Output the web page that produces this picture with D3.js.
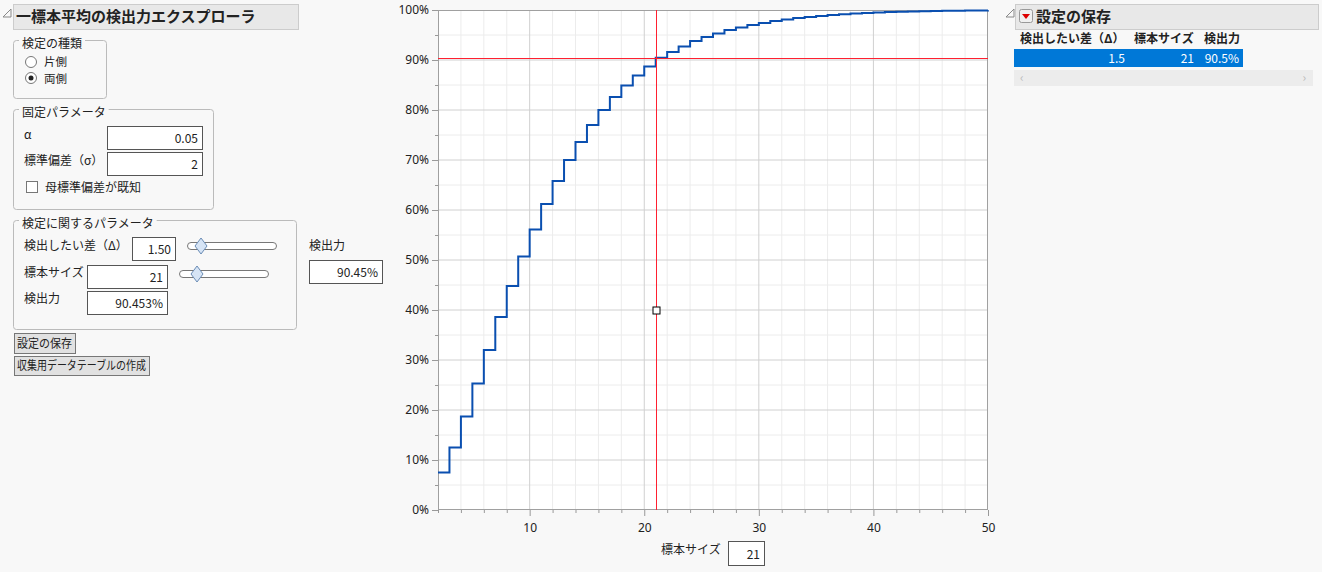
<!DOCTYPE html>
<html><head><meta charset="utf-8">
<script src="https://cdn.jsdelivr.net/npm/d3@7"></script>
<style>body{margin:0;background:#f8f8f8;}svg{display:block;font-family:"Noto Sans CJK JP",sans-serif;}</style>
</head><body><svg id="c" width="1322" height="572"></svg>
<script>
const sampleSizes = d3.range(2, 51);
const powerValues = [7.5,12.5,18.7,25.3,32.0,38.6,44.8,50.7,56.1,61.2,65.8,70.0,73.6,77.0,80.0,82.6,84.9,86.9,88.7,90.45,
 91.6,92.7,93.8,94.6,95.3,96.0,96.5,97.0,97.4,97.8,98.1,98.4,98.6,98.8,99.0,99.15,99.3,99.4,99.5,99.58,99.65,99.7,99.75,99.8,99.83,99.86,99.89,99.91,99.93];
const xTicks = [10,20,30,40,50];
const yTicks = d3.range(0,101,10);
const selN = 21, selPower = 90.45, markerPower = 40;
const savedHeaders = ["検出したい差（Δ）","標本サイズ","検出力"];
const savedRow = ["1.5","21","90.5%"];

const svg = d3.select("#c");
function txt(x,y,s,o={}){const t=svg.append("text").attr("x",x).attr("y",y).text(s).attr("font-size",o.size||12).attr("fill",o.fill||"#222").attr("font-weight",o.bold?"bold":"normal").attr("text-anchor",o.anchor||"start");if(o.len)t.attr("textLength",o.len).attr("lengthAdjust","spacingAndGlyphs");return t;}
function rect(x,y,w,h,fill,stroke,r){return svg.append("rect").attr("x",x).attr("y",y).attr("width",w).attr("height",h).attr("fill",fill).attr("stroke",stroke||"none").attr("rx",r||0);}
function tri(x,y){svg.append("path").attr("d",`M${x},${y+5}L${x+8},${y+5}L${x+8},${y-3}Z`).attr("fill","none").attr("stroke","#888");}
function group(x,y,w,h,label){rect(x+.5,y+.5,w,h,"none","#bbb",3);const t=txt(x+9,y+8,label);const bb=t.node().getBBox();svg.insert("rect",()=>t.node()).attr("x",bb.x-3).attr("y",bb.y).attr("width",bb.width+6).attr("height",bb.height).attr("fill","#f8f8f8");}
function input(x,y,w,h,v){rect(x+.5,y+.5,w,h,"#fff","#555");txt(x+w-4,y+h-6,v,{anchor:"end"});}
function slider(x,y,w,dx){rect(x+.5,y+.5,w,7,"#fff","#777",3.5);svg.append("path").attr("d",`M${dx},${y-4}L${dx+6},${y+4}L${dx},${y+12}L${dx-6},${y+4}Z`).attr("fill","#d6e4f5").attr("stroke","#6a8cb5");}
function button(x,y,w,h,label){rect(x+.5,y+.5,w,h,"#e1e1e1","#777");txt(x+3,y+h-5,label,{len:w-6});}

tri(3,12);
rect(13.5,4.5,285,25,"#e8e8e8","#ccc");
txt(16,22,"一標本平均の検出力エクスプローラ",{size:15,bold:true});
group(13,40,93,58,"検定の種類");
svg.append("circle").attr("cx",31).attr("cy",62).attr("r",5.5).attr("fill","#fff").attr("stroke","#777");
svg.append("circle").attr("cx",31).attr("cy",78).attr("r",5.5).attr("fill","#fff").attr("stroke","#777");
svg.append("circle").attr("cx",31).attr("cy",78).attr("r",2.5).attr("fill","#222");
txt(44,66,"片側",{size:11.5});txt(44,82.5,"両側",{size:11.5});
group(13,109,200,100,"固定パラメータ");
txt(24,139,"α");input(107,126,95,23,"0.05");
txt(24,165,"標準偏差（σ）");input(107,152,95,23,"2");
rect(26.5,181.5,11,11,"#fff","#777");txt(45,192,"母標準偏差が既知");
group(13,220,283,109,"検定に関するパラメータ");
txt(24,250,"検出したい差（Δ）");input(132,237,43,23,"1.50");slider(187,242,89,201);
txt(24,277,"標本サイズ");input(87,265,80,23,"21");slider(179,270,89,197);
txt(24,303,"検出力");input(87,291,80,23,"90.453%");
txt(309,250,"検出力");input(309,260,73,23,"90.45%");
button(14,333,61,20,"設定の保存");
button(14,356,135,19,"収集用データテーブルの作成");

const m={l:438,r:988,t:10,b:510};
const x=d3.scaleLinear().domain([2,50]).range([m.l,m.r]);
const y=d3.scaleLinear().domain([0,100]).range([m.b,m.t]);
rect(m.l,m.t,m.r-m.l,m.b-m.t,"#fff");
const g=svg.append("g");
d3.range(4,50,2).filter(v=>v%10).forEach(v=>g.append("line").attr("x1",x(v)).attr("x2",x(v)).attr("y1",m.t).attr("y2",m.b).attr("stroke","#ececec"));
d3.range(5,100,10).forEach(v=>g.append("line").attr("x1",m.l).attr("x2",m.r).attr("y1",y(v)).attr("y2",y(v)).attr("stroke","#ececec"));
xTicks.slice(0,-1).forEach(v=>g.append("line").attr("x1",x(v)).attr("x2",x(v)).attr("y1",m.t).attr("y2",m.b).attr("stroke","#d0d0d0"));
yTicks.slice(1,-1).forEach(v=>g.append("line").attr("x1",m.l).attr("x2",m.r).attr("y1",y(v)).attr("y2",y(v)).attr("stroke","#d0d0d0"));
rect(m.l+.5,m.t+.5,m.r-m.l-1,m.b-m.t-1,"none","#a0a0a0");

const xa=svg.append("g").attr("transform",`translate(0,${m.b})`).call(d3.axisBottom(x).tickValues(xTicks).tickSize(6).tickSizeOuter(0));
const xm=svg.append("g").attr("transform",`translate(0,${m.b})`).call(d3.axisBottom(x).tickValues(d3.range(2,51,2).filter(v=>v%10)).tickSize(3).tickFormat(""));
const ya=svg.append("g").attr("transform",`translate(${m.l},0)`).call(d3.axisLeft(y).tickValues(yTicks).tickFormat(d=>d+"%").tickSize(6).tickSizeOuter(0));
const ym=svg.append("g").attr("transform",`translate(${m.l},0)`).call(d3.axisLeft(y).tickValues(d3.range(5,100,10)).tickSize(3).tickFormat(""));
[xa,xm,ya,ym].forEach(a=>{a.select(".domain").remove();a.selectAll("line").attr("stroke","#999");a.selectAll("text").attr("font-family","Segoe UI, Noto Sans, sans-serif").attr("font-size",12).attr("fill","#222");});
xa.selectAll("text").attr("dy","1.1em");

const pts=sampleSizes.map((n,i)=>[n,powerValues[i]]);
pts.push([50,powerValues[powerValues.length-1]]);
svg.append("path").datum(pts).attr("d",d3.line().x(d=>x(d[0])).y(d=>y(d[1])).curve(d3.curveStepAfter))
 .attr("fill","none").attr("stroke","#0a4fb0").attr("stroke-width",2);
svg.append("line").attr("x1",Math.round(x(selN))+.5).attr("x2",Math.round(x(selN))+.5).attr("y1",m.t).attr("y2",m.b).attr("stroke","#ff2030");
svg.append("line").attr("x1",m.l).attr("x2",m.r).attr("y1",Math.round(y(selPower))+.5).attr("y2",Math.round(y(selPower))+.5).attr("stroke","#ff2030");
rect(Math.round(x(selN))-3,Math.round(y(markerPower))-3,7,7,"#fff","#000");

txt(661,554,"標本サイズ");input(728,541,36,24,"21");

tri(1006,12);
rect(1015.5,4.5,303,25,"#e8e8e8","#ccc");
rect(1019.5,9.5,13,13,"#f0f0f0","#999",2);
svg.append("path").attr("d","M1022,14L1030,14L1026,19Z").attr("fill","#d00");
txt(1036,22,"設定の保存",{size:15,bold:true});
txt(1020,43,savedHeaders[0],{bold:true});txt(1134,43,savedHeaders[1],{bold:true});txt(1204,43,savedHeaders[2],{bold:true});
rect(1014,49,229,18,"#0078d7");
txt(1125,63,savedRow[0],{fill:"#fff",anchor:"end"});txt(1194,63,savedRow[1],{fill:"#fff",anchor:"end"});txt(1239,63,savedRow[2],{fill:"#fff",anchor:"end"});
rect(1014,70,299,16,"#ececec");
txt(1020,82,"‹",{fill:"#bbb"});txt(1306,82,"›",{fill:"#bbb",anchor:"end"});
</script></body></html>
